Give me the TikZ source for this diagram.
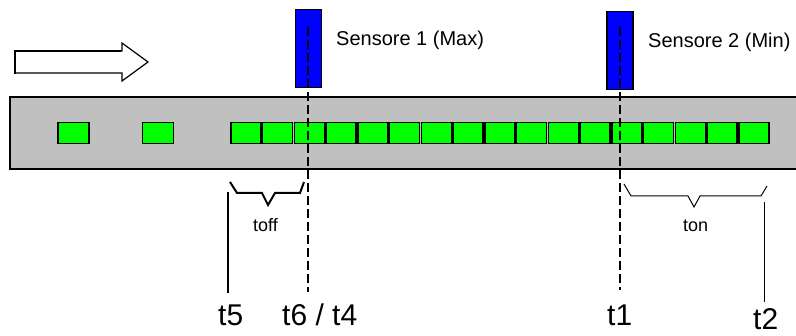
\documentclass[tikz,border=0pt]{standalone}
\usepackage{fontspec}
\setmainfont{Liberation Sans}
\definecolor{cgreen}{RGB}{0,255,0}
\definecolor{cblue}{RGB}{0,0,255}
\definecolor{cgray}{RGB}{192,192,192}
\begin{document}
\begin{tikzpicture}[x=1pt,y=-1pt,
  box/.style={draw=black, line width=1.5pt, fill=cgreen, minimum width=30pt, minimum height=21pt, inner sep=0pt},
  sbox/.style={box, minimum width=31pt},
  sensor/.style={draw=black, line width=1.5pt, fill=cblue, minimum width=26pt, minimum height=78pt, inner sep=0pt},
  lbl/.style={anchor=base west, inner sep=0pt, font=\fontsize{20}{24}\selectfont},
  slbl/.style={anchor=base west, inner sep=0pt, font=\fontsize{18}{22}\selectfont},
  tlbl/.style={anchor=base west, inner sep=0pt, font=\fontsize{30}{36}\selectfont},
  dash line/.style={line width=1.6pt, dash pattern=on 9pt off 4pt},
  brace/.style={line width=2pt, line join=miter}]
\useasboundingbox (0,0) rectangle (796,336);
% direction arrow
\draw[line width=1.2pt, fill=white, line join=miter] (15,51) -- (122,51) -- (122,43) -- (148,62) -- (122,81) -- (122,73) -- (15,73) -- cycle;
\draw[line width=2.6pt] (15,74) -- (15,51) -- (121,51);
% belt
\fill[cgray] (10,97) rectangle (796,169);
\draw[line width=2.5pt] (796,97) -- (10,97) -- (10,169) -- (796,169);
% boxes
\node[sbox] (b1) at (73.5,133) {};
\node[sbox] (b2) at (158,133) {};
\foreach \i in {0,...,16} {
  \node[box] (r\i) at ({245.75+\i*31.75},133) {};
}
% sensors
\node[sensor] (s1) at (308.5,48.5) {};
\node[sensor] (s2) at (620,50.5) {};
\node[lbl] (ls1) at (336,46) {Sensore 1 (Max)};
\node[lbl] (ls2) at (648,48) {Sensore 2 (Min)};
% dashed lines
\coordinate (d1a) at (308,27); \coordinate (d1b) at (308,292);
\coordinate (d2a) at (620,27); \coordinate (d2b) at (620,290);
\draw[dash line] (d1a) -- (d1b);
\draw[dash line] (d2a) -- (d2b);
% toff brace
\draw[brace] (230,182) -- (237,193) -- (262,193) -- (268,205) -- (275,193) -- (300,193) -- (304,182);
\node[slbl] (toff) at (253,232) {toff};
% ton brace
\draw[brace, line width=1pt] (624,184) -- (631,196) -- (688,196) -- (694,207) -- (700,196) -- (761,196) -- (767,186);
\node[slbl] (ton) at (683,232) {ton};
% time lines
\coordinate (t5a) at (228,192); \coordinate (t5b) at (228,293);
\draw[line width=2pt] (t5a) -- (t5b);
\coordinate (t2a) at (764,202); \coordinate (t2b) at (764,302);
\draw[line width=1pt] (t2a) -- (t2b);
% time labels
\node[tlbl] (t5) at (218,326) {t5};
\node[tlbl] (t64) at (282,326) {t6 / t4};
\node[tlbl] (t1) at (607,326) {t1};
\node[tlbl] (t2) at (753,330) {t2};
\end{tikzpicture}
\end{document}
